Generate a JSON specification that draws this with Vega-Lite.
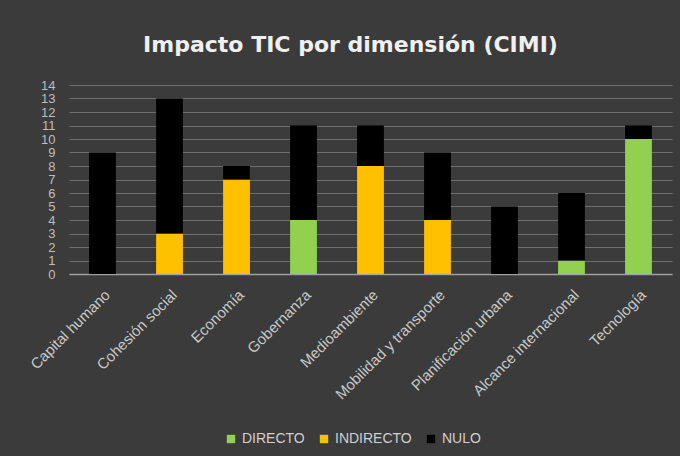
{
  "$schema": "https://vega.github.io/schema/vega-lite/v6.json",
  "width": 603,
  "height": 189,
  "autosize": {"type": "none"},
  "padding": {"left": 69, "top": 85, "right": 8, "bottom": 182},
  "background": "#3b3b3b",
  "title": {
    "text": "Impacto TIC por dimensión (CIMI)",
    "font": "DejaVu Sans",
    "fontSize": 22,
    "fontWeight": "bold",
    "color": "#f0f0f0",
    "anchor": "middle",
    "dx": -20,
    "offset": 22
  },
  "data": {
    "values": [
      {"dim": "Capital humano", "tipo": "NULO", "n": 9},
      {"dim": "Cohesión social", "tipo": "INDIRECTO", "n": 3},
      {"dim": "Cohesión social", "tipo": "NULO", "n": 10},
      {"dim": "Economía", "tipo": "INDIRECTO", "n": 7},
      {"dim": "Economía", "tipo": "NULO", "n": 1},
      {"dim": "Gobernanza", "tipo": "DIRECTO", "n": 4},
      {"dim": "Gobernanza", "tipo": "NULO", "n": 7},
      {"dim": "Medioambiente", "tipo": "INDIRECTO", "n": 8},
      {"dim": "Medioambiente", "tipo": "NULO", "n": 3},
      {"dim": "Mobilidad y transporte", "tipo": "INDIRECTO", "n": 4},
      {"dim": "Mobilidad y transporte", "tipo": "NULO", "n": 5},
      {"dim": "Planificación urbana", "tipo": "NULO", "n": 5},
      {"dim": "Alcance internacional", "tipo": "DIRECTO", "n": 1},
      {"dim": "Alcance internacional", "tipo": "NULO", "n": 5},
      {"dim": "Tecnología", "tipo": "DIRECTO", "n": 10},
      {"dim": "Tecnología", "tipo": "NULO", "n": 1}
    ]
  },
  "mark": {"type": "bar"},
  "encoding": {
    "x": {
      "field": "dim",
      "type": "nominal",
      "sort": null,
      "scale": {"paddingInner": 0.6, "paddingOuter": 0.3},
      "axis": {
        "title": null,
        "labelAngle": -45,
        "labelAlign": "right",
        "labelBaseline": "top",
        "labelPadding": 13,
        "labelOffset": 0,
        "labelFont": "Liberation Sans",
        "labelFontSize": 15,
        "labelColor": "#c8c8c8",
        "ticks": false,
        "domainColor": "#a0a0a0",
        "domainWidth": 1.5,
        "labelLimit": 300,
        "labelOverlap": false
      }
    },
    "y": {
      "field": "n",
      "type": "quantitative",
      "stack": "zero",
      "scale": {"domain": [0, 14], "nice": false},
      "axis": {
        "title": null,
        "values": [0,1,2,3,4,5,6,7,8,9,10,11,12,13,14],
        "labelOverlap": false,
        "labelFlush": false,
        "labelFont": "Liberation Sans",
        "labelFontSize": 13,
        "labelColor": "#bdbdbd",
        "ticks": false,
        "domain": false,
        "labelPadding": 14,
        "gridColor": "#6e6e6e",
        "gridWidth": 1
      }
    },
    "color": {
      "field": "tipo",
      "type": "nominal",
      "scale": {"domain": ["DIRECTO", "INDIRECTO", "NULO"], "range": ["#92d050", "#ffc000", "#000000"]},
      "legend": {
        "title": null,
        "orient": "none",
        "direction": "horizontal",
        "legendX": 155,
        "legendY": 347,
        "symbolType": "square",
        "symbolSize": 70,
        "symbolStrokeWidth": 0,
        "labelFont": "Liberation Sans",
        "labelFontSize": 14,
        "labelColor": "#d0d0d0",
        "columnPadding": 12,
        "labelOffset": 4
      }
    },
    "order": {"field": "tipo", "sort": "ascending"}
  },
  "config": {
    "view": {"stroke": null}
  }
}
